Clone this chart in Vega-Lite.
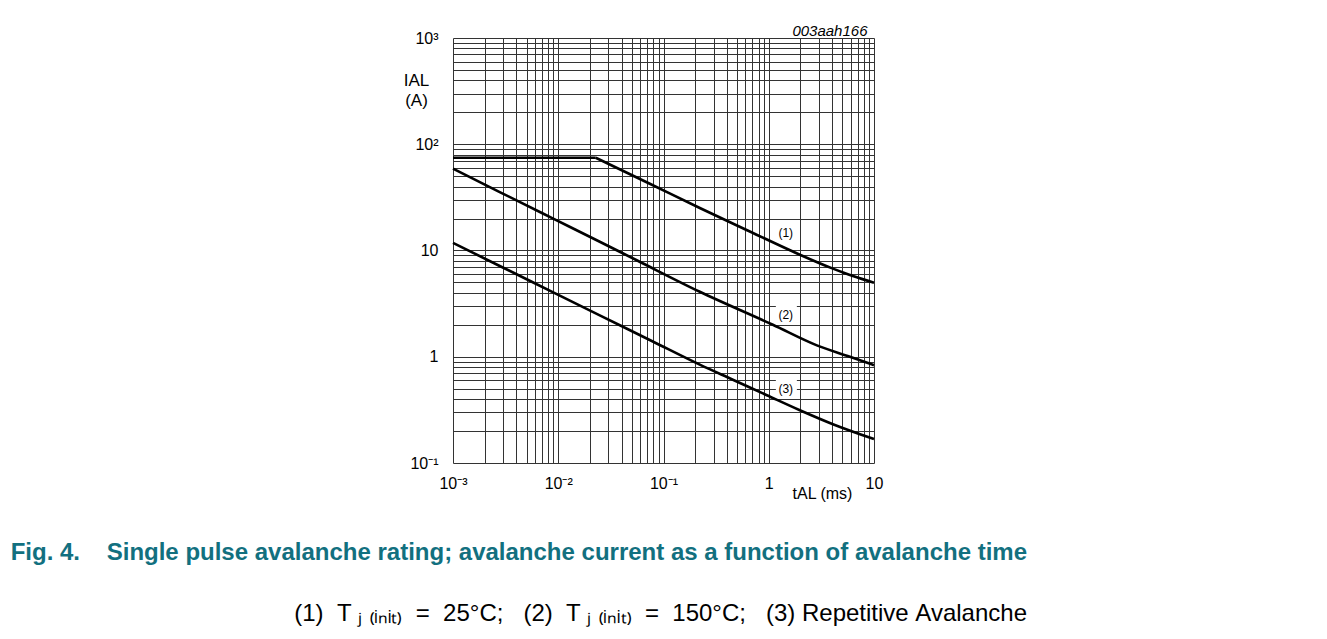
{
  "$schema": "https://vega.github.io/schema/vega-lite/v6.json",
  "autosize": "none",
  "width": 421,
  "height": 425,
  "padding": {"left": 453, "top": 38, "right": 453, "bottom": 176},
  "background": "white",
  "config": {"view": {"stroke": null}, "font": "Liberation Sans"},
  "title": {
    "text": "Fig. 4.\u00a0\u00a0\u00a0\u00a0Single pulse avalanche rating; avalanche current as a function of avalanche time",
    "subtitle": "(1)\u00a0\u00a0T\u00a0\u2c7c\u00a0\u208d\u1d62\u2099\u1d62\u209c\u208e\u00a0\u00a0=\u00a0\u00a025°C;\u00a0\u00a0\u00a0(2)\u00a0\u00a0T\u00a0\u2c7c\u00a0\u208d\u1d62\u2099\u1d62\u209c\u208e\u00a0\u00a0=\u00a0\u00a0150°C;\u00a0\u00a0\u00a0(3)\u00a0Repetitive\u00a0Avalanche",
    "orient": "bottom",
    "anchor": "end",
    "frame": "group",
    "dx": 153,
    "offset": 40,
    "font": "Liberation Sans",
    "fontSize": 24,
    "fontWeight": "bold",
    "color": "#12707f",
    "subtitleFont": "Liberation Sans",
    "subtitleFontSize": 24,
    "subtitleColor": "#000000",
    "subtitlePadding": 37
  },
  "datasets": {
    "curves": [
      {"s": "1a", "t": 0.001, "I": 74.7},
      {"s": "1a", "t": 0.02272, "I": 74.7},
      {"s": "1b", "t": 0.02272, "I": 74.7},
      {"s": "1b", "t": 0.0741, "I": 42.5},
      {"s": "1b", "t": 0.2213, "I": 25.1},
      {"s": "1b", "t": 0.661, "I": 15.1},
      {"s": "1b", "t": 1.975, "I": 9.13},
      {"s": "1b", "t": 4.07, "I": 6.75},
      {"s": "1b", "t": 6.3, "I": 5.75},
      {"s": "1b", "t": 10, "I": 4.98},
      {"s": "2", "t": 0.001, "I": 58.9},
      {"s": "2", "t": 0.00278, "I": 35.5},
      {"s": "2", "t": 0.00886, "I": 20.05},
      {"s": "2", "t": 0.0248, "I": 12.08},
      {"s": "2", "t": 0.0557, "I": 8.09},
      {"s": "2", "t": 0.2213, "I": 4.09},
      {"s": "2", "t": 1.094, "I": 2.0},
      {"s": "2", "t": 2.866, "I": 1.28},
      {"s": "2", "t": 5.9, "I": 1.0},
      {"s": "2", "t": 10, "I": 0.833},
      {"s": "3", "t": 0.001, "I": 11.8},
      {"s": "3", "t": 0.00278, "I": 7.15},
      {"s": "3", "t": 0.00886, "I": 4.06},
      {"s": "3", "t": 0.0248, "I": 2.455},
      {"s": "3", "t": 0.0791, "I": 1.392},
      {"s": "3", "t": 0.2213, "I": 0.842},
      {"s": "3", "t": 0.456, "I": 0.608},
      {"s": "3", "t": 0.959, "I": 0.4345},
      {"s": "3", "t": 1.975, "I": 0.314},
      {"s": "3", "t": 4.07, "I": 0.232},
      {"s": "3", "t": 10, "I": 0.168}
    ],
    "labels": [
      {"lab": "(1)", "t": 1.45, "I": 14.7},
      {"lab": "(2)", "t": 1.45, "I": 2.49},
      {"lab": "(3)", "t": 1.45, "I": 0.5}
    ],
    "boxes": [
      {"t1": 1.168, "t2": 1.85, "i1": 11.8, "i2": 18.3},
      {"t1": 1.168, "t2": 1.85, "i1": 2.07, "i2": 3.09},
      {"t1": 1.168, "t2": 1.85, "i1": 0.403, "i2": 0.621}
    ]
  },
  "resolve": {"axis": {"x": "independent"}},
  "layer": [
    {
      "data": {"name": "boxes"},
      "mark": {"type": "rect", "fill": "white", "stroke": null},
      "encoding": {
        "x": {"field": "t1", "type": "quantitative", "scale": {"type": "log", "domain": [0.001, 10], "nice": false}, "axis": null},
        "x2": {"field": "t2"},
        "y": {"field": "i1", "type": "quantitative", "scale": {"type": "log", "domain": [0.1, 1000], "nice": false}},
        "y2": {"field": "i2"}
      }
    },
    {
      "data": {"name": "curves"},
      "mark": {"type": "line", "color": "#000000", "strokeWidth": 2.6, "strokeCap": "butt", "strokeJoin": "round", "interpolate": "monotone"},
      "encoding": {
        "detail": {"field": "s"},
        "x": {
          "field": "t", "type": "quantitative",
          "scale": {"type": "log", "domain": [0.001, 10], "nice": false},
          "axis": {
            "orient": "bottom",
            "values": [0.001,0.002,0.003,0.004,0.005,0.006,0.007,0.008,0.009,0.01,0.02,0.03,0.04,0.05,0.06,0.07,0.08,0.09,0.1,0.2,0.3,0.4,0.5,0.6,0.7,0.8,0.9,1,2,3,4,5,6,7,8,9,10],
            "grid": true, "gridColor": "#333333", "gridWidth": 1, "gridOpacity": 1,
            "ticks": false, "domain": false,
            "labelExpr": "datum.value == 0.001 ? '10\u207b\u00b3' : datum.value == 0.01 ? '10\u207b\u00b2' : datum.value == 0.1 ? '10\u207b\u00b9' : datum.value == 1 ? '1' : datum.value == 10 ? '10' : ''",
            "labelFont": "Liberation Sans", "labelFontSize": 16, "labelColor": "#000000",
            "labelPadding": 12, "labelOverlap": false, "labelFlush": false, "labelBound": false,
            "title": "tAL (ms)", "titleFont": "Liberation Sans", "titleFontSize": 16, "titleFontWeight": "normal", "titleColor": "#000000",
            "titleX": 369, "titleY": 35, "titleAlign": "center", "titleBaseline": "alphabetic"
          }
        },
        "y": {
          "field": "I", "type": "quantitative",
          "scale": {"type": "log", "domain": [0.1, 1000], "nice": false},
          "axis": {
            "values": [0.1,0.2,0.3,0.4,0.5,0.6,0.7,0.8,0.9,1,2,3,4,5,6,7,8,9,10,20,30,40,50,60,70,80,90,100,200,300,400,500,600,700,800,900,1000],
            "grid": true, "gridColor": "#333333", "gridWidth": 1, "gridOpacity": 1,
            "ticks": false, "domain": false,
            "labelExpr": "datum.value == 1000 ? '10\u00b3' : datum.value == 100 ? '10\u00b2' : datum.value == 10 ? '10' : datum.value == 1 ? '1' : datum.value == 0.1 ? '10\u207b\u00b9' : ''",
            "labelFont": "Liberation Sans", "labelFontSize": 16, "labelColor": "#000000",
            "labelPadding": 15, "labelOverlap": false, "labelFlush": false, "labelBound": false,
            "title": ["IAL", "(A)"], "titleAngle": 0, "titleAlign": "center", "titleBaseline": "alphabetic",
            "titleX": -37, "titleY": 47, "titleLineHeight": 20,
            "titleFont": "Liberation Sans", "titleFontSize": 17, "titleFontWeight": "normal", "titleColor": "#000000"
          }
        }
      }
    },
    {
      "data": {"name": "labels"},
      "mark": {"type": "text", "font": "Liberation Sans", "fontSize": 12, "color": "#000000", "align": "center", "baseline": "middle"},
      "encoding": {
        "text": {"field": "lab"},
        "x": {
          "field": "t", "type": "quantitative",
          "scale": {"type": "log", "domain": [0.001, 10], "nice": false},
          "axis": {
            "orient": "top", "grid": false, "labels": false, "ticks": false, "domain": false,
            "title": "003aah166", "titleFont": "Liberation Sans", "titleFontStyle": "italic", "titleFontSize": 15,
            "titleFontWeight": "normal", "titleColor": "#000000",
            "titleX": 414, "titleY": -3, "titleAlign": "right", "titleBaseline": "alphabetic"
          }
        },
        "y": {"field": "I", "type": "quantitative", "scale": {"type": "log", "domain": [0.1, 1000], "nice": false}}
      }
    }
  ]
}
